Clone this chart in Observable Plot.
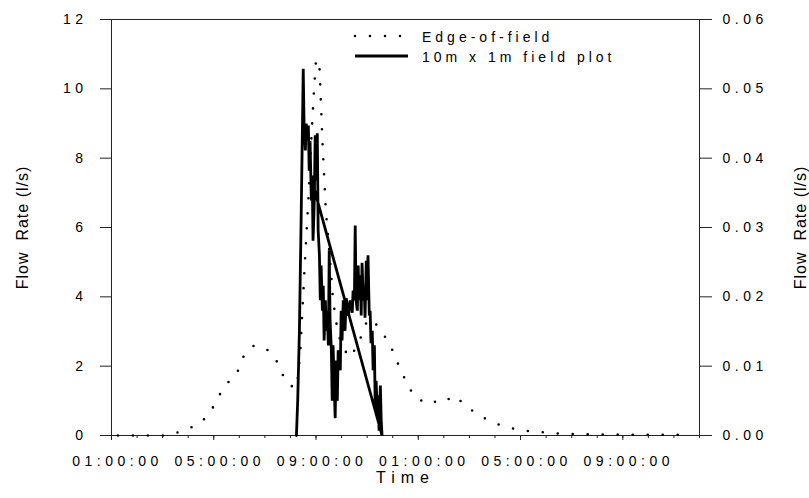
<!DOCTYPE html>
<html><head><meta charset="utf-8">
<script src="https://cdn.jsdelivr.net/npm/d3@7"></script>
<script src="https://cdn.jsdelivr.net/npm/@observablehq/plot@0.6"></script>
<style>
body{margin:0;background:#fff;}
#chart{position:relative;width:809px;height:498px;font-family:"Liberation Sans",Arial,sans-serif;}
#chart svg{display:block;}
#legend{position:absolute;left:0;top:0;pointer-events:none;}
</style></head><body>
<div id="chart"></div>
<script>
// Edge-of-field flow (l/s, left axis)
const edgeTimes = ["01:15","02:00","03:10","03:45","04:20","04:45","05:00","05:15","05:30","05:50","06:02","06:12","06:35","07:10","07:30","07:42","07:56","08:15","08:23","08:33","08:42","08:50","08:55","09:00","09:08","09:15","09:23","09:33","09:40","09:52","10:16","10:36","10:58","11:12","11:33","11:52","12:14","12:38","12:57","13:32","13:50","14:08","14:26","14:53","15:30","16:08","16:46","17:23","17:59","18:36","19:52","21:44","23:44"];
const edgeFlow = [0,0,0,0.12,0.3,0.55,0.85,1.2,1.5,1.7,2.0,2.35,2.6,2.45,2.1,1.75,1.45,1.38,2.4,4.8,6.8,8.8,9.9,10.85,10.67,8.5,6.5,5.05,3.9,2.9,2.25,2.54,3.25,3.37,3.0,2.68,2.02,1.38,1.05,0.91,1.07,1.03,1.15,0.83,0.53,0.32,0.19,0.12,0.09,0.05,0.03,0.02,0.02];

// 10m x 1m field plot flow (l/s, right axis)
const plotTimes = ["08:14","08:17","08:21","08:25","08:29","08:30","08:32","08:35","08:37","08:39","08:42","08:44","08:46","08:49","08:51","08:53","08:56","08:58","09:00","09:03","09:05","09:08","09:10","09:12","09:15","09:17","09:19","09:22","09:24","09:26","09:29","09:31","09:33","09:36","09:38","09:40","09:43","09:45","09:47","09:50","09:52","09:57","09:59","10:01","10:04","10:08","10:11","10:16","10:20","10:25","10:27","10:30","10:32","10:34","10:37","10:39","10:41","10:44","10:46","10:48","10:51","10:53","10:55","10:58","11:00","11:02","11:05","11:07","11:09","11:12","11:14","11:17","11:19","11:21","11:24","11:26","11:28","11:31","11:33","11:35","08:49"];
const plotFlow = [0,0.0050,0.0151,0.0310,0.0483,0.0529,0.0447,0.0411,0.0450,0.0425,0.0447,0.0382,0.0425,0.0339,0.0375,0.0281,0.0339,0.0433,0.0368,0.0436,0.0296,0.0260,0.0195,0.0245,0.0180,0.0216,0.0137,0.0195,0.0151,0.0180,0.0130,0.0267,0.0166,0.0123,0.0050,0.0130,0.0065,0.0025,0.0108,0.0050,0.0123,0.0094,0.0180,0.0137,0.0195,0.0151,0.0198,0.0173,0.0195,0.0177,0.0209,0.0195,0.0303,0.0195,0.0180,0.0245,0.0195,0.0231,0.0173,0.0249,0.0195,0.0216,0.0170,0.0252,0.0195,0.0260,0.0173,0.0180,0.0133,0.0151,0.0094,0.0130,0.0036,0.0079,0.0032,0.0058,0.0007,0.0072,0.0022,0,0.0371];

const leftTicks = [0,2,4,6,8,10,12];
const rightTicks = [0,0.01,0.02,0.03,0.04,0.05,0.06];
const xTickLabels = ["01:00","05:00","09:00","13:00","17:00","21:00"];
const xDomain = ["01:00","24:00"];
const yLabel = "Flow  Rate (l/s)";
const xLabel = "Time";
const legendLabels = ["Edge-of-field","10m x 1m field plot"];

const RATIO = 12 / 0.06;
const base = Date.UTC(2000,0,1);
const toDate = s => { const [h,m] = s.split(":").map(Number); return new Date(base + (h*60+m)*60000); };

const edge = edgeTimes.map((t,i)=>({t: toDate(t), v: edgeFlow[i]}));
const field = plotTimes.map((t,i)=>({t: toDate(t), v: plotFlow[i]}));
const domain = xDomain.map(toDate);
const major = xTickLabels.map(toDate);
const minor = d3.utcHour.range(domain[0], d3.utcHour.offset(domain[1],1));

const svg = Plot.plot({
  width: 809, height: 498,
  marginLeft: 111, marginRight: 110, marginTop: 19, marginBottom: 63,
  style: {fontFamily: '"Liberation Sans", Arial, sans-serif', fontSize: "14px", color: "#000", background: "#fff"},
  x: {type: "utc", domain},
  y: {domain: [0, 12]},
  marks: [
    Plot.axisX({ticks: minor, tickSize: 3, tickFormat: () => "", stroke: "#222", label: null}),
    Plot.axisX({ticks: major, tickSize: 5, tickPadding: 16, tickFormat: d3.utcFormat("%I:%M:%S"), fontSize: 14, stroke: "#222", label: null}),
    Plot.axisY({anchor: "left", ticks: leftTicks, tickSize: 11, tickPadding: 13, fontSize: 14, stroke: "#222", label: null, tickFormat: d => String(d)}),
    Plot.axisY({anchor: "right", ticks: rightTicks.map(v => v*RATIO), tickSize: 12, tickPadding: 11, fontSize: 14, stroke: "#222", label: null, tickFormat: d => (d/RATIO).toFixed(2)}),
    Plot.frame({stroke: "#222"}),
    Plot.line(edge, {x: "t", y: "v", stroke: "#000", strokeWidth: 2.6, strokeDasharray: "0,15", strokeLinecap: "round"}),
    Plot.line(field, {x: "t", y: d => d.v * RATIO, stroke: "#000", strokeWidth: 2.8, strokeLinejoin: "miter", strokeMiterlimit: 2}),
    Plot.text([yLabel], {text: d => d, frameAnchor: "left", textAnchor: "middle", dx: -89, rotate: -90, fontSize: 16, fill: "#000"}),
    Plot.text([yLabel], {text: d => d, frameAnchor: "right", textAnchor: "middle", dx: 101, rotate: -90, fontSize: 16, fill: "#000"}),
    Plot.text([xLabel], {text: d => d, frameAnchor: "bottom", dy: 47, fontSize: 16, fill: "#000"})
  ]
});

const s = d3.select(svg);
s.selectAll("text").each(function(){
  const t = this.textContent;
  if (t === xLabel) d3.select(this).attr("letter-spacing", "6px");
  else if (t === yLabel) d3.select(this).attr("letter-spacing", "1px");
  else d3.select(this).attr("letter-spacing", "4.5px");
});
s.selectAll('g[aria-label="x-axis tick label"] text').attr("dx", 6);

const chart = document.getElementById("chart");
chart.appendChild(svg);

// legend inside the plot area
const lg = d3.select(chart).append("svg").attr("id","legend").attr("width",809).attr("height",498);
lg.append("line").attr("x1",355).attr("x2",408).attr("y1",36).attr("y2",36)
  .attr("stroke","#000").attr("stroke-width",2.6).attr("stroke-dasharray","0,15").attr("stroke-linecap","round");
lg.append("line").attr("x1",355).attr("x2",408).attr("y1",56).attr("y2",56)
  .attr("stroke","#000").attr("stroke-width",2.8);
legendLabels.forEach((t,i)=>{
  lg.append("text").attr("x",422).attr("y",41.5+20*i).attr("font-size",14)
    .attr("letter-spacing","4px").attr("font-family",'"Liberation Sans", Arial, sans-serif').text(t);
});
</script>
</body></html>
